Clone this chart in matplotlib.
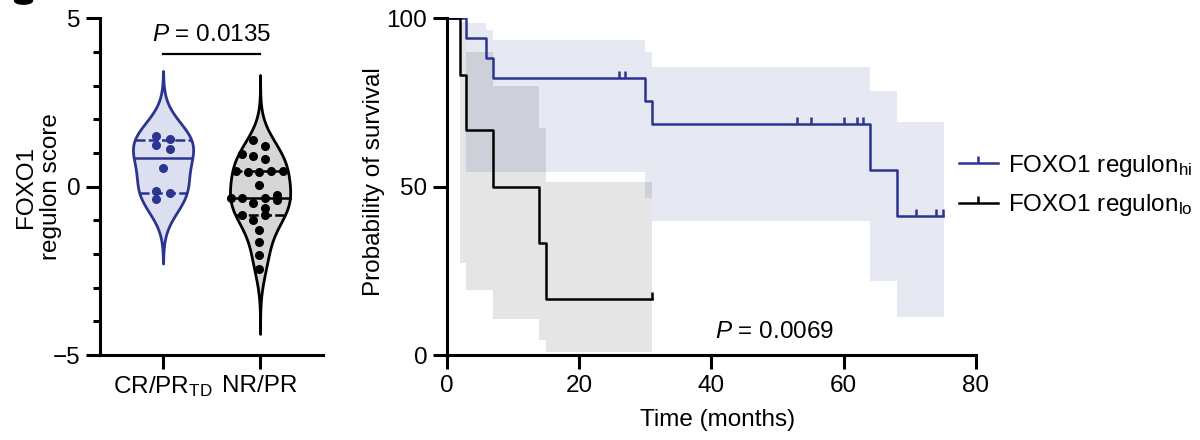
import numpy as np
import matplotlib
matplotlib.use("Agg")
from matplotlib import pyplot as plt
from matplotlib.lines import Line2D
from matplotlib.patches import Ellipse

plt.rcParams['font.family'] = ['Liberation Sans', 'DejaVu Sans']
plt.rcParams['mathtext.fontset'] = 'custom'
plt.rcParams['mathtext.rm'] = 'Liberation Sans'
plt.rcParams['mathtext.it'] = 'Liberation Sans:italic'
FS = 17.5
plt.rcParams['font.size'] = FS

BLUE = '#2b3590'
BLACK = '#000000'

# --- violin data (FOXO1 regulon score) ---
groups = ['CR/PR$_{\\mathrm{TD}}$', 'NR/PR']
crpr_scores = [1.51, 1.43, 1.23, 1.13, 0.57, -0.12, -0.19, -0.35]
crpr_offsets = [-0.069, 0.069, -0.069, 0.069, 0.0, -0.069, 0.069, -0.069]
nrpr_scores = [1.39, 1.22, 0.97, 0.90, 0.84, 0.48, 0.45, 0.45, 0.48, 0.47,
               0.05, -0.33, -0.33, -0.33, -0.25, -0.40, -0.47, -0.64, -0.83,
               -0.98, -0.85, -1.28, -1.65, -2.04, -2.44]
nrpr_offsets = [-0.069, 0.052, -0.182, -0.069, 0.052, -0.251, -0.127, -0.007,
                0.113, 0.234, -0.007, -0.299, -0.182, 0.052, 0.172, 0.172,
                -0.069, 0.052, -0.182, -0.069, 0.052, -0.007, -0.007, -0.007,
                -0.007]
p_violin = '$P$ = 0.0135'

# --- Kaplan-Meier data ---
hi_t = [0, 3, 6, 7, 30, 31, 64, 68, 75]
hi_s = [100, 94.1, 88.2, 82.4, 75.5, 68.6, 54.9, 41.2, 41.2]
hi_censor = [26, 27, 53, 55, 60, 62, 63, 71, 74, 75]
hi_ci_t = [3, 6, 7, 30, 31, 64, 68, 75.1]
hi_ci_up = [98.7, 96.5, 93.6, 90.1, 85.5, 78.5, 69.2, 69.2]
hi_ci_lo = [54.4, 54.4, 54.4, 46.5, 39.9, 22.1, 11.4, 11.4]

lo_t = [0, 2, 3, 7, 14, 15, 31]
lo_s = [100, 83.3, 66.7, 50.0, 33.3, 16.7, 16.7]
lo_censor = [31]
lo_ci_t = [2, 3, 7, 14, 15, 31]
lo_ci_up = [99.0, 90.1, 79.9, 67.3, 51.5, 51.5]
lo_ci_lo = [27.2, 19.3, 10.6, 4.5, 1.0, 1.0]
p_km = '$P$ = 0.0069'

fig = plt.figure(figsize=(12, 4.4), dpi=100)

# ---------------- violin panel ----------------
ax1 = fig.add_axes([0.0833, 0.193, 0.186, 0.765])


def violin(ax, pos, vals, bw, edge, face):
    vals = np.asarray(vals)
    grid = np.linspace(vals.min() - 1.93, vals.max() + 1.93, 400)
    dens = np.exp(-0.5 * ((grid[:, None] - vals[None, :]) / bw) ** 2).sum(1)
    w = 0.31 * dens / dens.max()
    ax.fill_betweenx(grid, pos - w, pos + w, facecolor=face, edgecolor=edge,
                     lw=2.0, zorder=2)
    q1, med, q3 = np.percentile(vals, [25, 50, 75], method='weibull')
    for q, ls in [(med, '-'), (q1, (0, (4, 1.3))), (q3, (0, (4, 1.3)))]:
        hw = np.interp(q, grid, w)
        ax.plot([pos - hw, pos + hw], [q, q], color=edge, lw=1.8, ls=ls, zorder=3)


violin(ax1, 0, crpr_scores, 0.62, BLUE, '#dcdff0')
violin(ax1, 1, nrpr_scores, 0.57, BLACK, '#d6d6d6')
ax1.plot(np.array(crpr_offsets), crpr_scores, 'o', color=BLUE, ms=5.5, zorder=4)
ax1.plot(1 + np.array(nrpr_offsets), nrpr_scores, 'o', color=BLACK, ms=5.5, zorder=4)

ax1.plot([0, 1], [3.95, 3.95], color=BLACK, lw=1.6)
ax1.text(0.5, 4.5, p_violin, ha='center', va='center', fontsize=FS)

ax1.set_xlim(-0.65, 1.65)
ax1.set_ylim(-5, 5)
ax1.set_yticks([-5, 0, 5])
ax1.set_yticklabels(['\u22125', '0', '5'])
ax1.set_yticks(np.arange(-5, 6, 1), minor=True)
ax1.set_xticks([0, 1])
ax1.set_xticklabels(groups)
ax1.set_ylabel('FOXO1\nregulon score', linespacing=1.2)
ax1.yaxis.set_label_coords(-0.168, 0.5)
for s in ['top', 'right']:
    ax1.spines[s].set_visible(False)
for s in ['left', 'bottom']:
    ax1.spines[s].set_linewidth(2.2)
ax1.tick_params(which='major', length=10, width=2.2, pad=4)
ax1.tick_params(which='minor', length=5, width=2.2)
ax1.tick_params(axis='x', which='minor', length=0)

# ---------------- Kaplan-Meier panel ----------------
ax2 = fig.add_axes([0.3722, 0.193, 0.4411, 0.7654])

ax2.fill_between(hi_ci_t, hi_ci_lo, hi_ci_up, step='post', color=BLUE,
                 alpha=0.115, lw=0, zorder=1)
ax2.fill_between(lo_ci_t, lo_ci_lo, lo_ci_up, step='post', color=BLACK,
                 alpha=0.1, lw=0, zorder=1)

ax2.step(hi_t, hi_s, where='post', color=BLUE, lw=1.8, zorder=3)
ax2.step(lo_t, lo_s, where='post', color=BLACK, lw=1.8, zorder=3)


def surv_at(ts, ss, t):
    i = np.searchsorted(ts, t, side='right') - 1
    return np.asarray(ss)[i]


ax2.plot(hi_censor, surv_at(hi_t, hi_s, hi_censor), ls='none', marker=2,
         ms=5, mew=1.8, color=BLUE, zorder=4)
ax2.plot(lo_censor, surv_at(lo_t, lo_s, lo_censor), ls='none', marker=2,
         ms=5, mew=1.8, color=BLACK, zorder=4)

ax2.text(49.6, 7, p_km, ha='center', va='center', fontsize=FS)

ax2.set_xlim(0, 80)
ax2.set_ylim(0, 100)
ax2.set_xticks([0, 20, 40, 60, 80])
ax2.set_yticks([0, 50, 100])
ax2.set_xlabel('Time (months)')
ax2.xaxis.set_label_coords(0.5126, -0.16)
ax2.set_ylabel('Probability of survival')
ax2.yaxis.set_label_coords(-0.1166, 0.515)
for s in ['top', 'right']:
    ax2.spines[s].set_visible(False)
for s in ['left', 'bottom']:
    ax2.spines[s].set_linewidth(2.2)
ax2.tick_params(length=10, width=2.2, pad=4)

handles = [Line2D([0], [0], color=BLUE, lw=1.8, marker=2, ms=5, mew=1.8),
           Line2D([0], [0], color=BLACK, lw=1.8, marker=2, ms=5, mew=1.8)]
labels = ['FOXO1 regulon$_{\\mathrm{hi}}$', 'FOXO1 regulon$_{\\mathrm{lo}}$']
fig.legend(handles, labels, loc='upper left', bbox_to_anchor=(0.789, 0.68),
           frameon=False, handlelength=1.6, handletextpad=0.4,
           labelspacing=0.55, borderpad=0, fontsize=FS)

# clipped remnant of the panel letter at the top-left corner
fig.patches.append(Ellipse((0.0196, 0.9985), 0.015, 0.016, color=BLACK,
                           transform=fig.transFigure, figure=fig))

fig.savefig('out.png', dpi=100)
